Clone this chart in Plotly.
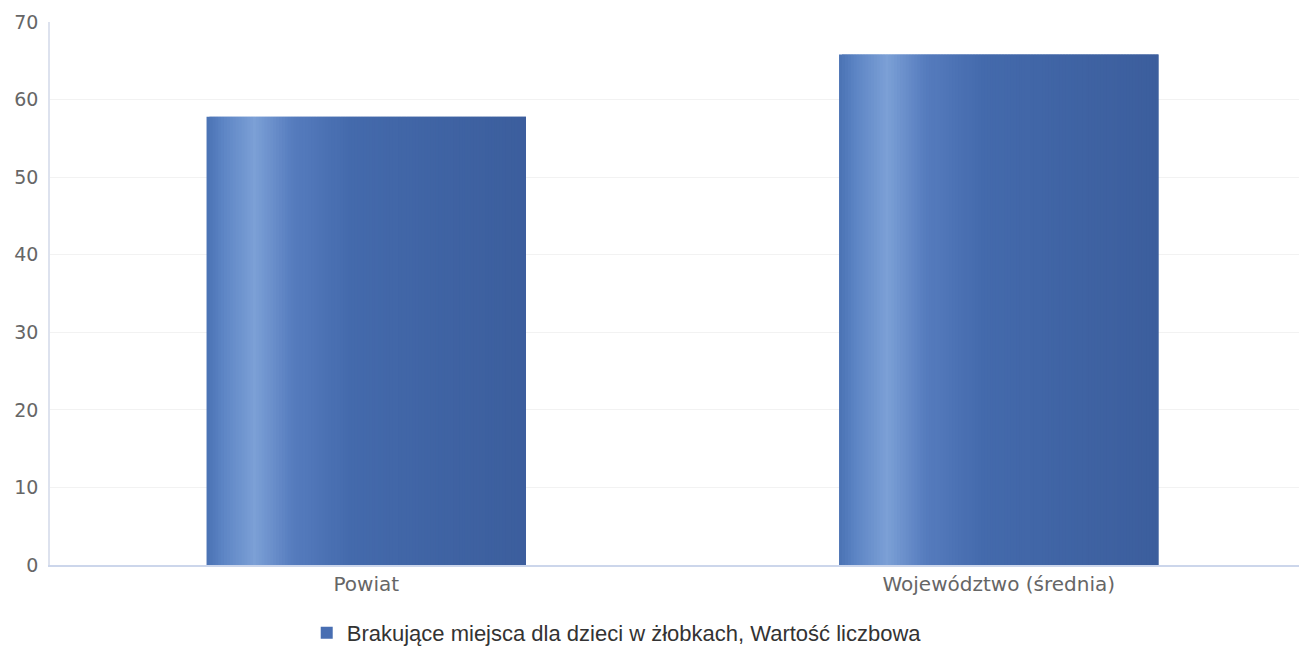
import numpy as np
import plotly.graph_objects as go

categories = ["Powiat", "Województwo (średnia)"]
values = [57.8, 65.8]
series_name = "Brakujące miejsca dla dzieci w żłobkach, Wartość liczbowa"
y_ticks = [0, 10, 20, 30, 40, 50, 60, 70]

# horizontal gradient stops (position across bar, colour)
grad_pos = [0.0, 0.05, 0.15, 0.27, 0.45, 0.75, 1.0]
grad_rgb = [(74, 114, 180), (92, 132, 196), (124, 160, 214), (86, 124, 190),
            (68, 106, 172), (63, 99, 163), (60, 94, 157)]

bar_width = 0.505
n_slices = 110

def colour_at(t):
    r = np.interp(t, grad_pos, [c[0] for c in grad_rgb])
    g = np.interp(t, grad_pos, [c[1] for c in grad_rgb])
    b = np.interp(t, grad_pos, [c[2] for c in grad_rgb])
    return f"rgb({int(round(r))},{int(round(g))},{int(round(b))})"

fig = go.Figure()
w = bar_width / n_slices
for i in range(n_slices):
    t = (i + 0.5) / n_slices
    fig.add_trace(go.Bar(
        x=categories, y=values,
        width=w * 2.0 if i < n_slices - 1 else w, offset=-bar_width / 2 + i * w,
        marker=dict(color=colour_at(t), line=dict(width=0)),
        showlegend=False, hoverinfo="skip",
    ))
# legend entry
fig.add_trace(go.Bar(
    x=categories, y=[None, None], name=series_name,
    marker=dict(color="rgb(72,110,178)", line=dict(width=0)),
    showlegend=True,
))

fig.update_layout(
    width=1307, height=647,
    barmode="overlay",
    paper_bgcolor="white", plot_bgcolor="white",
    margin=dict(l=42, r=0, t=14, b=90, autoexpand=False),
    font=dict(family="DejaVu Sans", color="#666666", size=19),
    legend=dict(orientation="h", x=0.448, xanchor="center", y=-0.125, yanchor="middle",
                font=dict(family="Liberation Sans", size=22, color="#333333"),
                itemwidth=30),
    xaxis=dict(type="category", showgrid=False, showline=True, linecolor="#ccd6eb",
               linewidth=1.5, ticks="", tickfont=dict(size=20, color="#666666"),
               range=[-0.5, 1.5], automargin=False),
    yaxis=dict(range=[0, 70], tickvals=y_ticks, showgrid=True, gridcolor="#f2f2f2",
               showline=True, linecolor="#dde2ee", linewidth=1.5, zeroline=False,
               ticks="", ticklabelstandoff=6, automargin=False,
               tickfont=dict(size=19, color="#666666")),
)

fig.write_html("out.html")
